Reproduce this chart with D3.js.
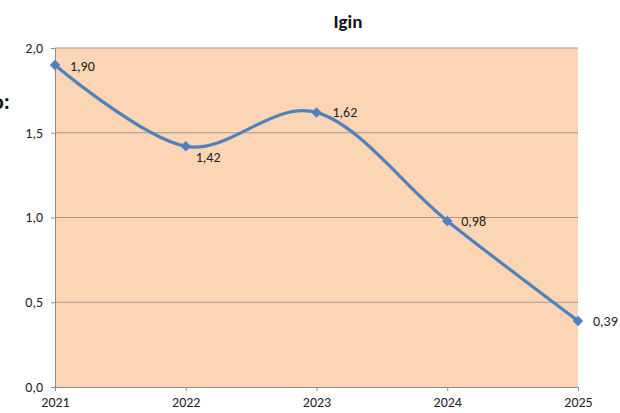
<!DOCTYPE html>
<html><head><meta charset="utf-8">
<script src="https://cdn.jsdelivr.net/npm/d3@7"></script>
<style>body{margin:0;background:#fff}svg{display:block}</style>
</head><body>
<script>
const years = ["2021","2022","2023","2024","2025"];
const values = [1.90, 1.42, 1.62, 0.98, 0.39];
const labels = ["1,90","1,42","1,62","0,98","0,39"];
const yTicks = [0, 0.5, 1.0, 1.5, 2.0];
const title = "Igin";

const W = 620, H = 413;
const m = {left:55, right:42, top:48, bottom:26};
const svg = d3.select("body").append("svg").attr("width", W).attr("height", H);
const font = "Calibri, Carlito, 'Open Sans', 'Liberation Sans', sans-serif";

const x = d3.scalePoint().domain(years).range([m.left, W - m.right]).padding(0);
const y = d3.scaleLinear().domain([0, 2]).range([H - m.bottom, m.top]);

svg.append("rect").attr("x", m.left).attr("y", m.top)
  .attr("width", W - m.right - m.left).attr("height", H - m.bottom - m.top)
  .attr("fill", "#fcd5b5");

svg.append("g").selectAll("line").data(yTicks.filter(d => d > 0)).join("line")
  .attr("x1", m.left).attr("x2", W - m.right)
  .attr("y1", d => y(d)).attr("y2", d => y(d))
  .attr("stroke", "#a8998c").attr("stroke-width", 1);

const fmt = d => d3.format(".1f")(d).replace(".", ",");
const ya = svg.append("g").attr("transform", `translate(${m.left},0)`)
  .call(d3.axisLeft(y).tickValues(yTicks).tickFormat(fmt).tickSize(4).tickPadding(8));
ya.select(".domain").attr("stroke", "#8c8c8c");
ya.selectAll(".tick line").attr("stroke", "#8c8c8c");
ya.selectAll("text").attr("font-family", font).attr("font-size", 14).attr("fill", "#222");

const xa = svg.append("g").attr("transform", `translate(0,${H - m.bottom})`)
  .call(d3.axisBottom(x).tickSize(4).tickPadding(6));
xa.select(".domain").attr("stroke", "#8c8c8c");
xa.selectAll(".tick line").attr("stroke", "#8c8c8c");
xa.selectAll("text").attr("font-family", font).attr("font-size", 14).attr("fill", "#222");

const pts = years.map((yr, i) => ({yr, v: values[i], lab: labels[i]}));
const line = d3.line().x(d => x(d.yr)).y(d => y(d.v)).curve(d3.curveCardinal.tension(0));
svg.append("path").datum(pts).attr("d", line)
  .attr("fill", "none").attr("stroke", "#4f81bd").attr("stroke-width", 3.2);

svg.append("g").selectAll("path").data(pts).join("path")
  .attr("transform", d => `translate(${x(d.yr)},${y(d.v)})`)
  .attr("d", d3.symbol(d3.symbolDiamond2, 70))
  .attr("fill", "#4f81bd");

const offs = [[15,6],[10,16],[16,5],[14,5],[15,5]];
svg.append("g").selectAll("text").data(pts).join("text")
  .attr("x", (d,i) => x(d.yr) + offs[i][0])
  .attr("y", (d,i) => y(d.v) + offs[i][1])
  .attr("font-family", font).attr("font-size", 14).attr("fill", "#222")
  .text(d => d.lab);

svg.append("text").attr("x", 348).attr("y", 28).attr("text-anchor", "middle")
  .attr("font-family", font).attr("font-size", 19).attr("font-weight", "bold")
  .attr("fill", "#111").text(title);

svg.append("text").attr("x", -8).attr("y", 109)
  .attr("font-family", font).attr("font-size", 22).attr("font-weight", "bold")
  .attr("fill", "#111").text("o:");
</script>
</body></html>
